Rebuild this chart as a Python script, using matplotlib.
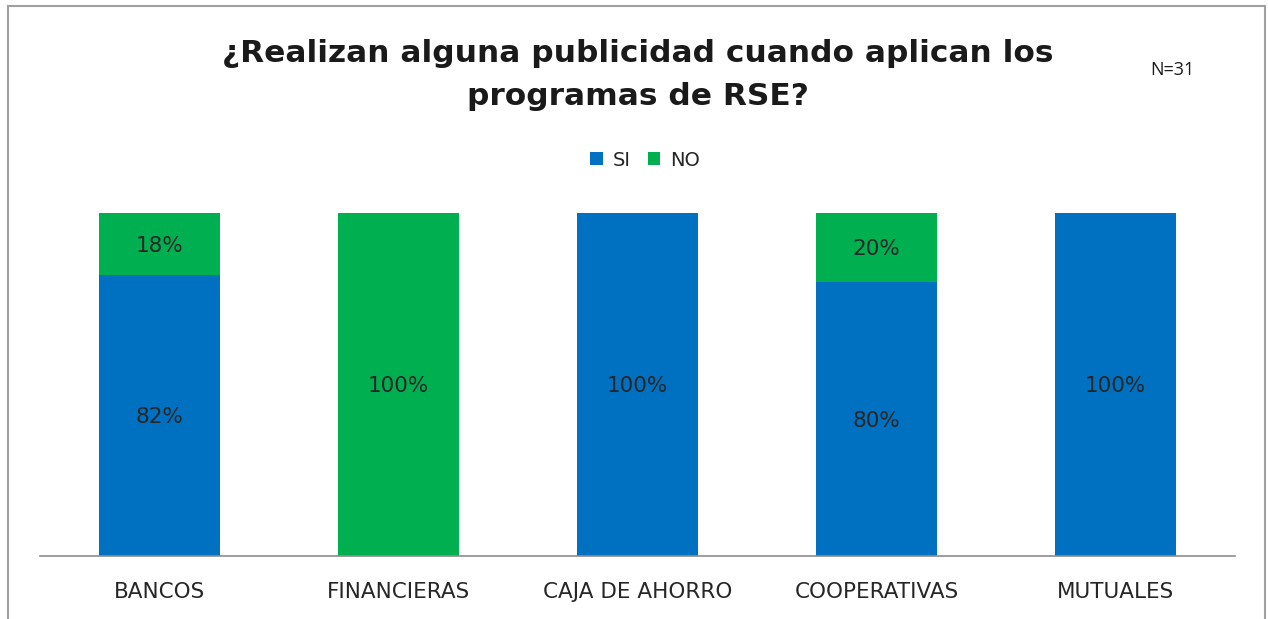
import matplotlib
matplotlib.use("Agg")
import matplotlib.pyplot as plt
from matplotlib.patches import Rectangle

plt.rcParams["font.family"] = "sans-serif"
plt.rcParams["font.sans-serif"] = ["DejaVu Sans"]

categories = ["BANCOS", "FINANCIERAS", "CAJA DE AHORRO", "COOPERATIVAS", "MUTUALES"]
si_values = [82, 0, 100, 80, 100]
no_values = [18, 100, 0, 20, 0]
series_names = ["SI", "NO"]
title = "¿Realizan alguna publicidad cuando aplican los\nprogramas de RSE?"
note = "N=31"

blue = "#0070C0"
green = "#00B050"
txt = "#262626"
FAM = "DejaVu Sans"

fig = plt.figure(figsize=(12.68, 6.19), dpi=100)
W, H = 1268, 619
ax = fig.add_axes([40 / W, 1 - 556 / H, (1235 - 40) / W, (556 - 213) / H])

x = list(range(len(categories)))
width = 0.507
b1 = ax.bar(x, si_values, width, color=blue, label=series_names[0])
b2 = ax.bar(x, no_values, width, bottom=si_values, color=green, label=series_names[1])

for i in x:
    if si_values[i] > 0:
        ax.text(i, si_values[i] / 2, f"{si_values[i]}%", ha="center",
                va="center_baseline", fontsize=15.5, color=txt, family=FAM)
    if no_values[i] > 0:
        ax.text(i, si_values[i] + no_values[i] / 2, f"{no_values[i]}%", ha="center",
                va="center_baseline", fontsize=15.5, color=txt, family=FAM)

ax.set_xlim(-0.5, len(categories) - 0.5)
ax.set_ylim(0, 100)
ax.set_yticks([])
for s in ["left", "right", "top"]:
    ax.spines[s].set_visible(False)
ax.spines["bottom"].set_color("#8C8C8C")
ax.spines["bottom"].set_linewidth(1.2)
ax.set_xticks(x)
ax.set_xticklabels(categories, fontsize=15.5, color=txt, family=FAM)
ax.tick_params(axis="x", length=0, pad=19)

fig.text(638 / W, 1 - 75 / H, title, ha="center", va="center", fontsize=22.5,
         fontweight="bold", color="#1a1a1a", linespacing=1.65, family=FAM)
fig.text(1172 / W, 1 - 70 / H, note, ha="center", va="center", fontsize=13,
         family="Open Sans", color="#1a1a1a")

leg = fig.legend(handles=[b1, b2], labels=series_names, loc="center",
                 bbox_to_anchor=(645 / W, 1 - 160 / H), ncol=2, frameon=False,
                 prop={"family": FAM, "size": 14},
                 handlelength=0.65, handleheight=0.65, handletextpad=0.5,
                 columnspacing=0.9)
for t in leg.get_texts():
    t.set_color(txt)

fig.patches.append(Rectangle((8 / W, -0.01), (1265 - 8) / W, 1 - 6 / H + 0.01,
                             transform=fig.transFigure, fill=False,
                             edgecolor="#A0A0A0", linewidth=1.5))

fig.savefig("out.png", dpi=100)
